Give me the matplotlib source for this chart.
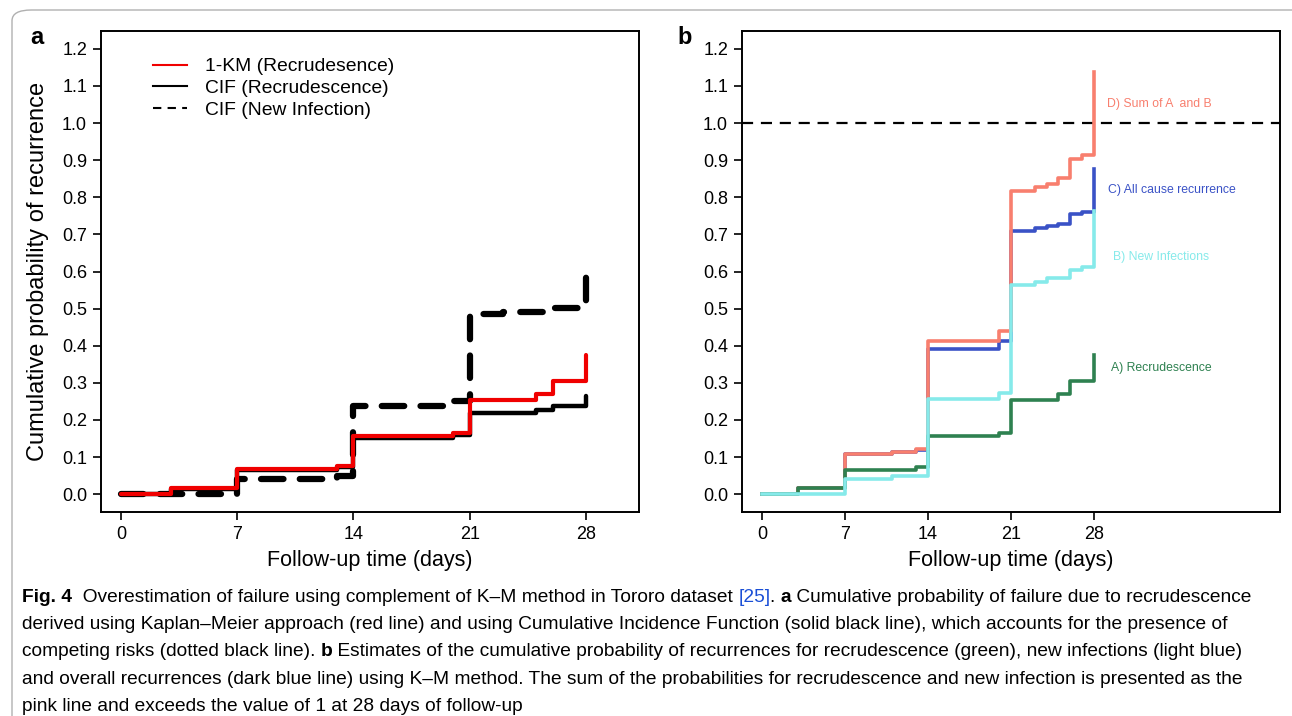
import matplotlib
matplotlib.use("Agg")
import matplotlib.pyplot as plt
from matplotlib.lines import Line2D
from matplotlib.patches import FancyBboxPatch
from matplotlib import font_manager

# ---- panel a: Kaplan-Meier vs cumulative incidence ----
days_km = [0, 3, 7, 13, 14, 20, 21, 25, 26, 28]
km_recrud = [0.0, 0.017, 0.067, 0.075, 0.156, 0.165, 0.254, 0.270, 0.304, 0.375]
cif_recrud = [0.0, 0.015, 0.065, 0.072, 0.152, 0.160, 0.220, 0.226, 0.237, 0.265]
days_new = [0, 7, 13, 14, 20, 21, 23, 26, 28]
cif_new = [0.0, 0.040, 0.050, 0.238, 0.250, 0.486, 0.490, 0.503, 0.522, 0.607]
days_new_last = 28

# ---- panel b: K-M estimates ----
days_b = [0, 3, 7, 11, 13, 14, 20, 21, 23, 24, 25, 26, 27, 28]
recrud_b = [0.0, 0.016, 0.065, 0.065, 0.072, 0.157, 0.165, 0.254, 0.254, 0.254, 0.270, 0.304, 0.304, 0.375]
newinf_b = [0.0, 0.0, 0.042, 0.049, 0.049, 0.256, 0.272, 0.564, 0.573, 0.582, 0.582, 0.603, 0.611, 0.763]
allcause_b = [0.0, 0.016, 0.107, 0.113, 0.120, 0.391, 0.412, 0.709, 0.716, 0.722, 0.728, 0.754, 0.760, 0.877]
sum_b = [0.0, 0.016, 0.108, 0.114, 0.121, 0.414, 0.439, 0.818, 0.827, 0.836, 0.853, 0.904, 0.915, 1.138]

xticks = [0, 7, 14, 21, 28]
yticks = [0.0, 0.1, 0.2, 0.3, 0.4, 0.5, 0.6, 0.7, 0.8, 0.9, 1.0, 1.1, 1.2]

RED = "#f00000"
SALMON = "#f87f6e"
BLUE = "#3a52c6"
CYAN = "#86eaea"
GREEN = "#2e8150"

plt.rcParams["font.family"] = ["Liberation Sans", "DejaVu Sans"]

fig = plt.figure(figsize=(12.92, 7.16), dpi=100)
W, H = 1292, 716


def px_axes(l, t, r, b):
    return fig.add_axes([l / W, 1 - b / H, (r - l) / W, (b - t) / H])


def style(ax, xlim):
    ax.set_xlim(*xlim)
    ax.set_ylim(-0.048, 1.248)
    ax.set_xticks(xticks)
    ax.set_yticks(yticks)
    ax.set_yticklabels([f"{v:.1f}" for v in yticks])
    ax.tick_params(direction="out", length=6, width=1.2, labelsize=13, pad=4)
    for s in ax.spines.values():
        s.set_linewidth(1.4)
    ax.set_xlabel("Follow-up time (days)", fontsize=15.5, labelpad=5)


# ---- panel a ----
ax = px_axes(101, 31, 639, 512)
ax.step(days_new + [days_new_last], cif_new, where="post", color="black",
        lw=4.5, ls=(0, (3.6, 2.6)), dash_capstyle="round", solid_capstyle="round")
ax.step(days_km, cif_recrud, where="post", color="black", lw=3.2,
        solid_capstyle="round")
ax.step(days_km, km_recrud, where="post", color=RED, lw=3.0,
        solid_capstyle="round")
style(ax, (-1.2, 31.2))
ax.set_ylabel("Cumulative probability of recurrence", fontsize=17, labelpad=9)
handles = [Line2D([], [], color=RED, lw=1.5),
           Line2D([], [], color="black", lw=1.5),
           Line2D([], [], color="black", lw=1.5, ls=(0, (4, 3)))]
ax.legend(handles, ["1-KM (Recrudesence)", "CIF (Recrudescence)", "CIF (New Infection)"],
          loc="upper left", bbox_to_anchor=(0.096, 0.944), frameon=False,
          fontsize=13.9, handlelength=1.8, handletextpad=0.9, labelspacing=0.22,
          borderpad=0, borderaxespad=0)

# ---- panel b ----
bx = px_axes(742, 31, 1280, 512)
bx.axhline(1.0, color="black", lw=1.6, ls=(0, (5, 3.5)))
bx.step(days_b, allcause_b, where="post", color=BLUE, lw=2.6)
bx.step(days_b, sum_b, where="post", color=SALMON, lw=2.6)
bx.step(days_b, recrud_b, where="post", color=GREEN, lw=2.6)
bx.step(days_b, newinf_b, where="post", color=CYAN, lw=2.6)
style(bx, (-1.68, 43.68))
lab_kw = dict(fontsize=8.8, va="center", ha="left")
bx.text(29.1, 1.05, "D) Sum of A  and B", color=SALMON, **lab_kw)
bx.text(29.2, 0.82, "C) All cause recurrence", color=BLUE, **lab_kw)
bx.text(29.6, 0.64, "B) New Infections", color=CYAN, **lab_kw)
bx.text(29.4, 0.34, "A) Recrudescence", color=GREEN, **lab_kw)

# panel letters
fig.text(30 / W, 1 - 38 / H, "a", fontsize=17, fontweight="bold", va="center", ha="left")
fig.text(677 / W, 1 - 38 / H, "b", fontsize=17, fontweight="bold", va="center", ha="left")

# outer rounded border
fig.patches.append(FancyBboxPatch((12 / W, -0.05), 1.2, 1 - 10 / H + 0.05,
                                  boxstyle="round,pad=0,rounding_size=0.015",
                                  transform=fig.transFigure, fill=False,
                                  ec="#b0b0b0", lw=1.0))

# ---- caption ----
names = {f.name for f in font_manager.fontManager.ttflist}
cap_family = "Liberation Sans Narrow" if "Liberation Sans Narrow" in names else "Liberation Sans"
cap_size = 13.8 if cap_family == "Liberation Sans" else 16

caption = [
    [("Fig. 4", "bold", "black"),
     ("  Overestimation of failure using complement of K\u2013M method in Tororo dataset ", "normal", "black"),
     ("[25]", "normal", "#1a4fd6"), (". ", "normal", "black"), ("a", "bold", "black"),
     (" Cumulative probability of failure due to recrudescence", "normal", "black")],
    [("derived using Kaplan\u2013Meier approach (red line) and using Cumulative Incidence Function "
      "(solid black line), which accounts for the presence of", "normal", "black")],
    [("competing risks (dotted black line). ", "normal", "black"), ("b", "bold", "black"),
     (" Estimates of the cumulative probability of recurrences for recrudescence (green), "
      "new infections (light blue)", "normal", "black")],
    [("and overall recurrences (dark blue line) using K\u2013M method. The sum of the probabilities "
      "for recrudescence and new infection is presented as the", "normal", "black")],
    [("pink line and exceeds the value of 1 at 28 days of follow-up", "normal", "black")],
]
baselines = [602, 629, 656, 684, 711]

for segs, yb in zip(caption, baselines):
    prev = None
    for txt, weight, col in segs:
        if prev is None:
            prev = fig.text(22 / W, 1 - yb / H, txt, fontsize=cap_size, fontweight=weight,
                            color=col, family=cap_family, va="baseline", ha="left")
        else:
            prev = fig.add_artist(matplotlib.text.Annotation(
                txt, xy=(1, 1 - yb / H), xycoords=(prev, fig.transFigure),
                fontsize=cap_size, fontweight=weight, color=col, family=cap_family,
                va="baseline", ha="left", annotation_clip=False))

fig.savefig("out.png", dpi=100)
